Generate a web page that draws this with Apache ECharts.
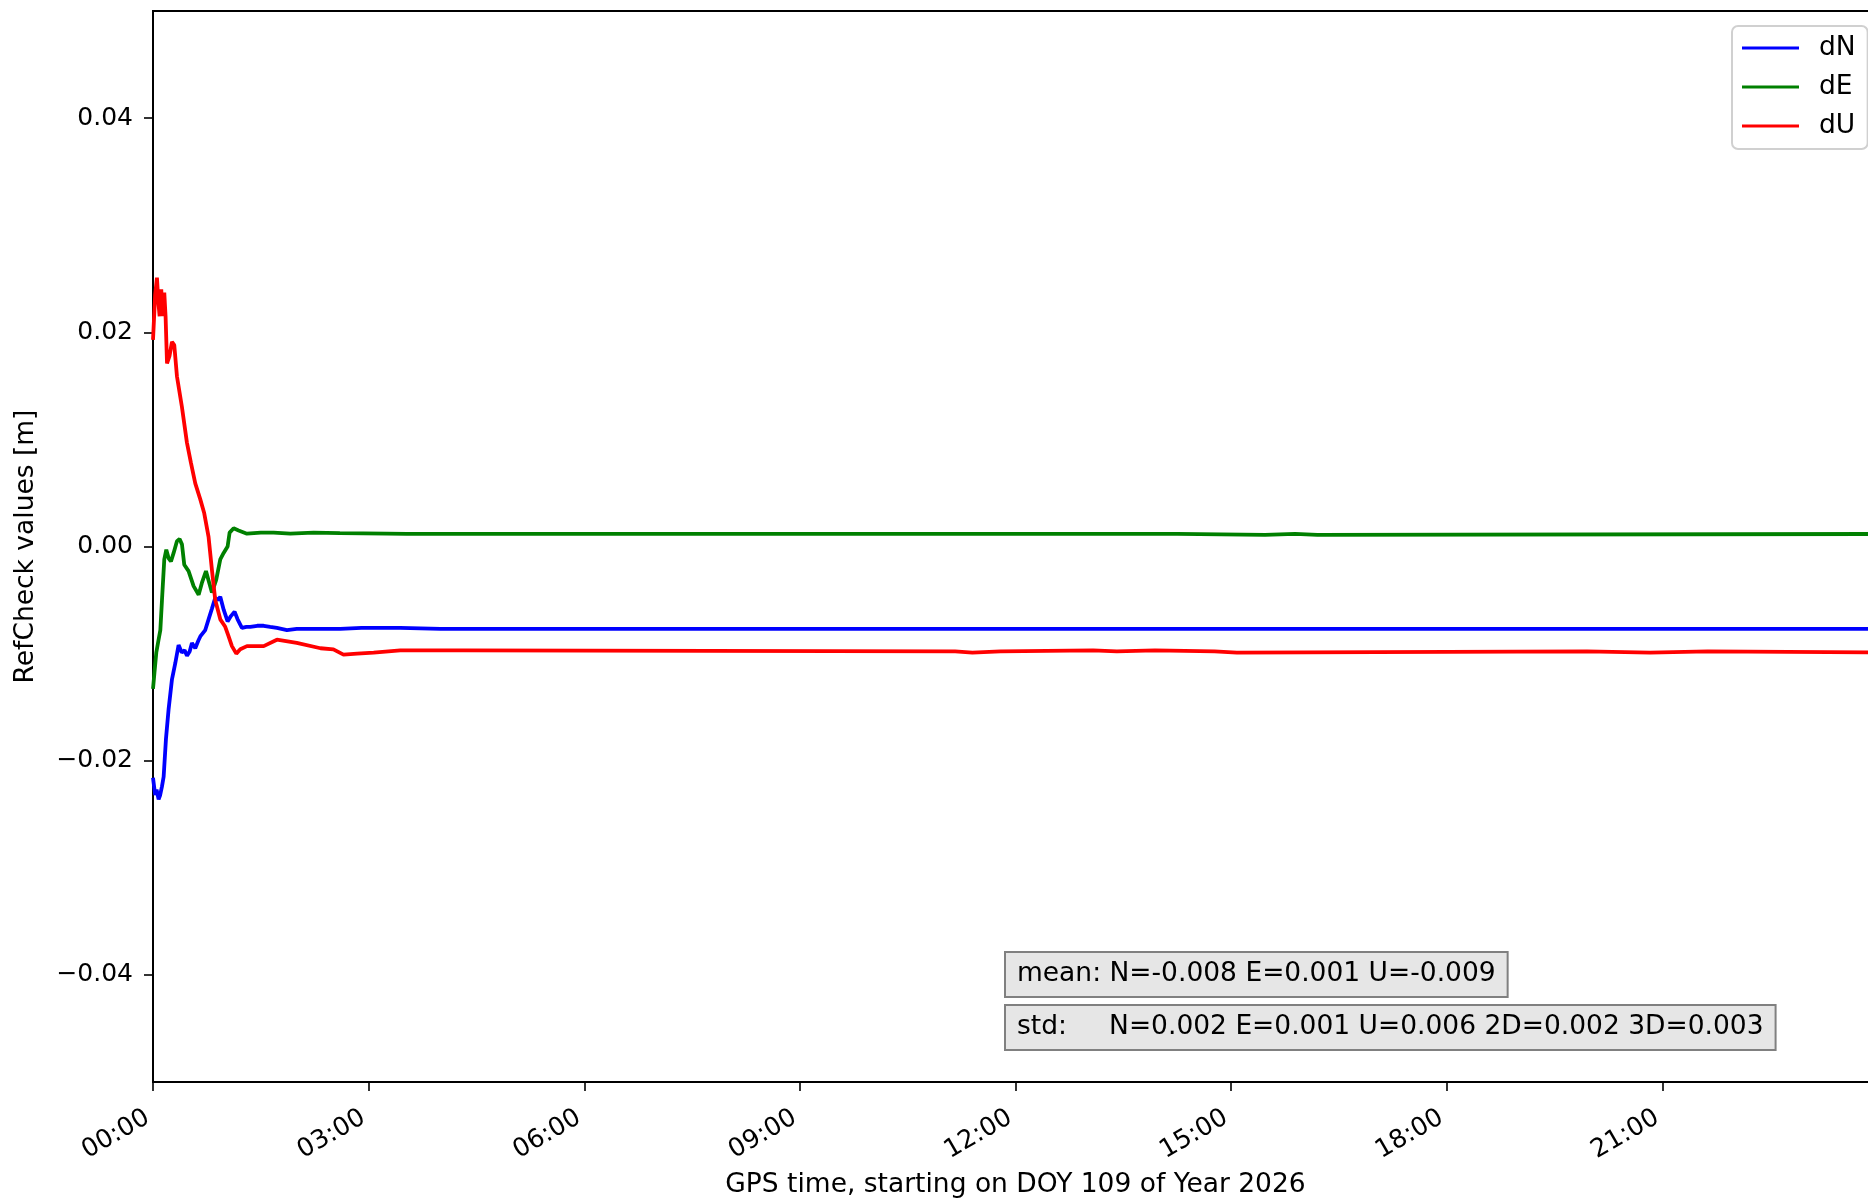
<!DOCTYPE html>
<html>
<head>
<meta charset="utf-8">
<title>RefCheck values</title>
<script src="https://cdn.jsdelivr.net/npm/echarts@6.0.0/dist/echarts.min.js"></script>
<style>
  html, body { margin: 0; padding: 0; background: #fff; }
  #chart { width: 1868px; height: 1201px; }
</style>
</head>
<body>
<div id="chart"></div>
<script>
// time in hours since 00:00, values in metres
const dNTime = [0, 0.03, 0.05, 0.078, 0.10, 0.125, 0.148, 0.18, 0.217, 0.264, 0.31, 0.356, 0.40, 0.44,
  0.473, 0.51, 0.542, 0.565, 0.588, 0.63, 0.658, 0.727, 0.773, 0.82, 0.866, 0.90, 0.936, 0.983, 1.038,
  1.084, 1.135, 1.177, 1.237, 1.30, 1.353, 1.45, 1.54, 1.63, 1.724, 1.864, 2.0, 2.142, 2.4, 2.606, 2.9,
  3.07, 3.44, 4.0, 8.0, 12.0, 16.0, 20.0, 24.0];
const dNVal = [-0.0216, -0.0232, -0.0227, -0.0236, -0.0232, -0.0224, -0.0215, -0.0180, -0.0152, -0.0124,
  -0.0109, -0.0092, -0.0099, -0.0097, -0.0102, -0.0098, -0.0090, -0.0089, -0.0095, -0.0088, -0.0084,
  -0.0078, -0.0068, -0.0058, -0.0048, -0.0050, -0.0047, -0.0059, -0.0070, -0.0065, -0.0061, -0.0068,
  -0.0076, -0.0075, -0.0075, -0.0074, -0.0074, -0.0075, -0.0076, -0.0078, -0.0077, -0.0077, -0.0077,
  -0.0077, -0.0076, -0.0076, -0.0076, -0.0077, -0.0077, -0.0077, -0.0077, -0.0077, -0.0077];

const dETime = [0, 0.02, 0.046, 0.075, 0.102, 0.125, 0.157, 0.185, 0.218, 0.25, 0.287, 0.333, 0.37,
  0.403, 0.435, 0.495, 0.565, 0.635, 0.68, 0.737, 0.783, 0.82, 0.88, 0.936, 0.983, 1.038, 1.066, 1.122,
  1.191, 1.307, 1.5, 1.678, 1.91, 2.235, 2.6, 3.25, 3.53, 4.0, 8.0, 14.25, 14.26, 15.47, 15.48, 15.89,
  15.90, 16.20, 16.21, 24.0];
const dEVal = [-0.0133, -0.0118, -0.0099, -0.0088, -0.0078, -0.0050, -0.0012, -0.0003, -0.0011, -0.0014,
  -0.0006, 0.0005, 0.0007, 0.0002, -0.0017, -0.0023, -0.0037, -0.0045, -0.0034, -0.0023, -0.0034,
  -0.0043, -0.0031, -0.0012, -0.0006, 0.0000, 0.0013, 0.0017, 0.0015, 0.0012, 0.0013, 0.0013, 0.0012,
  0.0013, 0.00125, 0.0012, 0.00117, 0.00117, 0.00117, 0.00117, 0.00108, 0.00108, 0.00117, 0.00117,
  0.00108, 0.00108, 0.00117, 0.00117];

const dUTime = [0, 0.03, 0.055, 0.075, 0.092, 0.115, 0.134, 0.157, 0.175, 0.195, 0.23, 0.264, 0.296,
  0.333, 0.403, 0.472, 0.528, 0.588, 0.658, 0.713, 0.773, 0.82, 0.866, 0.936, 1.005, 1.052, 1.098, 1.159,
  1.214, 1.307, 1.54, 1.724, 2.0, 2.33, 2.51, 2.65, 2.84, 3.07, 3.44, 4.32, 4.33, 11.16, 11.17, 11.40,
  11.41, 11.79, 11.80, 13.08, 13.09, 13.41, 13.42, 13.94, 13.95, 14.77, 14.78, 15.08, 15.09, 19.95,
  19.96, 20.83, 20.84, 21.63, 21.64, 24.0];
const dUVal = [0.0193, 0.0235, 0.0251, 0.0228, 0.0215, 0.0240, 0.0215, 0.0237, 0.0215, 0.0171, 0.0178,
  0.0191, 0.0188, 0.0159, 0.0130, 0.0097, 0.0078, 0.0059, 0.0044, 0.0031, 0.0009, -0.0022, -0.0050,
  -0.0068, -0.0075, -0.0084, -0.0093, -0.0100, -0.0096, -0.0093, -0.0093, -0.0087, -0.0090, -0.0095,
  -0.0096, -0.0101, -0.0100, -0.0099, -0.0097, -0.0097, -0.0098, -0.0098, -0.0099, -0.0099, -0.0098,
  -0.0098, -0.0097, -0.0097, -0.0098, -0.0098, -0.0097, -0.0097, -0.0098, -0.0098, -0.0099, -0.0099,
  -0.0098, -0.0098, -0.0099, -0.0099, -0.0098, -0.0098, -0.0099, -0.0099];

const xTicks = [0, 3, 6, 9, 12, 15, 18, 21];
const yTicks = [-0.04, -0.02, 0.00, 0.02, 0.04];
const meanText = 'mean: N=-0.008 E=0.001 U=-0.009';
const stdText = 'std:     N=0.002 E=0.001 U=0.006 2D=0.002 3D=0.003';

const FONT = 'DejaVu Sans';
const pair = (ts, vs) => ts.map((t, i) => [t, vs[i]]);

const chart = echarts.init(document.getElementById('chart'));

const option = {
  animation: false,
  backgroundColor: '#fff',
  textStyle: { fontFamily: FONT, color: '#000' },
  grid: {
    left: 153,
    right: -10,
    top: 11,
    bottom: 119,
    outerBoundsMode: 'none',
    show: true,
    borderColor: '#000',
    borderWidth: 2
  },
  xAxis: {
    type: 'value',
    min: 0,
    max: 24,
    name: 'GPS time, starting on DOY 109 of Year 2026',
    nameLocation: 'middle',
    nameGap: 90,
    nameTextStyle: { fontSize: 26.5, color: '#000', fontFamily: FONT },
    axisLine: { onZero: false, lineStyle: { color: '#000', width: 2 } },
    axisTick: { customValues: xTicks, length: 9, lineStyle: { color: '#000', width: 1.6 } },
    axisLabel: {
      customValues: xTicks,
      rotate: 30,
      margin: 31,
      padding: [0, 6, 0, 0],
      fontSize: 25.5,
      color: '#000',
      fontFamily: FONT,
      formatter: (v) => String(Math.round(v)).padStart(2, '0') + ':00'
    },
    splitLine: { show: false }
  },
  yAxis: {
    type: 'value',
    min: -0.05,
    max: 0.05,
    name: 'RefCheck values [m]',
    nameLocation: 'middle',
    nameGap: 113,
    nameTextStyle: { fontSize: 26.5, color: '#000', fontFamily: FONT },
    axisLine: { show: true, onZero: false, lineStyle: { color: '#000', width: 2 } },
    axisTick: { show: true, customValues: yTicks, length: 9, lineStyle: { color: '#000', width: 1.6 } },
    axisLabel: {
      customValues: yTicks,
      margin: 20,
      fontSize: 25,
      color: '#000',
      fontFamily: FONT,
      formatter: (v) => v.toFixed(2).replace('-', '\u2212')
    },
    splitLine: { show: false }
  },
  legend: {
    left: 1732,
    top: 26,
    orient: 'vertical',
    icon: 'rect',
    itemWidth: 57,
    itemHeight: 3,
    itemGap: 11,
    padding: [8, 12, 9, 10],
    backgroundColor: 'rgba(255,255,255,0.8)',
    borderColor: '#d0d0d0',
    borderWidth: 2,
    borderRadius: 6,
    textStyle: { fontSize: 26.5, lineHeight: 28, color: '#000', fontFamily: FONT, padding: [0, 0, 0, 15] },
    data: ['dN', 'dE', 'dU']
  },
  series: [
    { name: 'dN', type: 'line', data: pair(dNTime, dNVal), showSymbol: false, color: '#0000ff',
      lineStyle: { width: 3.8, color: '#0000ff' } },
    { name: 'dE', type: 'line', data: pair(dETime, dEVal), showSymbol: false, color: '#008000',
      lineStyle: { width: 3.8, color: '#008000' } },
    { name: 'dU', type: 'line', data: pair(dUTime, dUVal), showSymbol: false, color: '#ff0000',
      lineStyle: { width: 3.8, color: '#ff0000' } }
  ],
  graphic: [
    {
      type: 'text', left: 1004, top: 951, z: 100,
      style: {
        text: meanText, font: '26.5px "DejaVu Sans"', fill: '#000',
        backgroundColor: '#e6e6e6', borderColor: '#808080', borderWidth: 2,
        padding: [8, 11, 8, 11]
      }
    },
    {
      type: 'text', left: 1004, top: 1004, z: 100,
      style: {
        text: stdText, font: '26.5px "DejaVu Sans"', fill: '#000',
        backgroundColor: '#e6e6e6', borderColor: '#808080', borderWidth: 2,
        padding: [8, 11, 8, 11]
      }
    }
  ]
};

chart.setOption(option);
</script>
</body>
</html>
